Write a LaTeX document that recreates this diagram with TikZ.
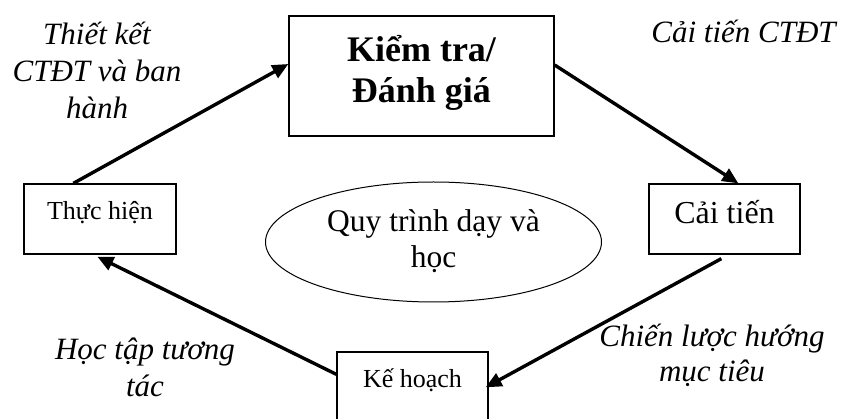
\documentclass[tikz,border=0pt]{standalone}
\usepackage{fontspec}
\setmainfont{Liberation Serif}
\usetikzlibrary{arrows.meta,shapes.geometric}
\begin{document}
\begin{tikzpicture}[x=1pt,y=-1pt,
  box/.style={draw,line width=1.3pt,rectangle,inner sep=0pt,align=center},
  flow/.style={line width=3.4pt,-{Triangle[length=16pt,width=14pt]}},
  note/.style={font=\itshape\fontsize{31}{37}\selectfont,anchor=base,inner sep=0pt}]
\useasboundingbox (0,0) rectangle (844,419);
\clip (0,0) rectangle (844,419);

% stages of the cycle
\node[box,minimum width=265pt,text height=46pt,text depth=74pt,
      font=\bfseries\fontsize{36}{41}\selectfont] (kt) at (421.5,76)
      {\begin{tabular}[t]{@{}c@{}}Kiểm tra/\\Đánh giá\end{tabular}};
\node[box,minimum width=152pt,text height=36pt,text depth=34pt,
      font=\fontsize{26}{30}\selectfont] (th) at (100,219) {Thực hiện};
\node[box,minimum width=151pt,text height=40pt,text depth=30pt,
      font=\fontsize{32}{36}\selectfont] (ct) at (724.5,219) {Cải tiến};
\node[box,minimum width=151pt,text height=36pt,text depth=44pt,
      font=\fontsize{26}{30}\selectfont] (kh) at (412.5,392) {Kế hoạch};

% centre of the cycle
\node[ellipse,draw,line width=1pt,minimum width=336pt,minimum height=120pt,
      inner sep=0pt,text height=25pt,text depth=45pt,
      font=\fontsize{31.5}{36}\selectfont] (qt) at (433.5,242)
      {\begin{tabular}[t]{@{}c@{}}Quy trình dạy và\\học\end{tabular}};

% transitions
\draw[flow] ([xshift=50pt]th.north west) -- ([yshift=12pt]kt.west);
\draw[flow] ([yshift=11pt]kt.east) -- ([xshift=90pt]ct.north west);
\draw[flow] ([xshift=73pt,yshift=-4pt]ct.south west) -- ([xshift=-3pt,yshift=-36pt]kh.north east);
\draw[flow] ([yshift=-23pt]kh.north west) -- ([xshift=74pt,yshift=-2pt]th.south west);

% transition captions
\node[note] (l1) at (97,45)
  {\begin{tabular}[t]{@{}c@{}}Thiết kết\\CTĐT và ban\\hành\end{tabular}};
\node[note] (l2) at (743.5,43) {Cải tiến CTĐT};
\node[note] (l3) at (145,360)
  {\begin{tabular}[t]{@{}c@{}}Học tập tương\\tác\end{tabular}};
\node[note,font=\itshape\fontsize{31}{35}\selectfont] (l4) at (712,347)
  {\begin{tabular}[t]{@{}c@{}}Chiến lược hướng\\mục tiêu\end{tabular}};
\end{tikzpicture}
\end{document}
